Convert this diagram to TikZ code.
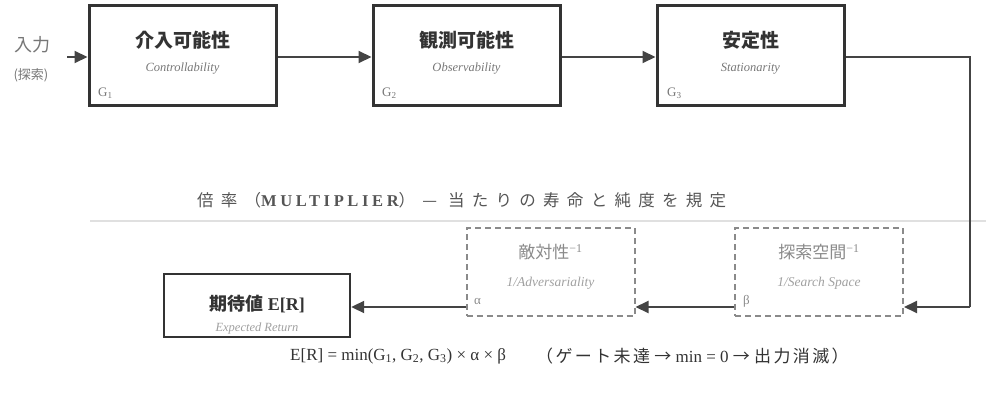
\documentclass[tikz,border=0pt]{standalone}
\usepackage{fontspec}
\setmainfont{Liberation Serif}
\newfontfamily\cjk{Noto Sans CJK JP}
\newfontfamily\cjksp[LetterSpace=44]{Noto Sans CJK JP}
\newfontfamily\cjkfm[LetterSpace=14]{Noto Sans CJK JP}
\newfontfamily\serifsp[LetterSpace=22]{Liberation Serif}
\usetikzlibrary{arrows.meta}
\definecolor{dk}{HTML}{333333}
\definecolor{ln}{HTML}{444444}
\definecolor{md}{HTML}{777777}
\definecolor{hd}{HTML}{555555}
\definecolor{dsh}{HTML}{8A8A8A}
\definecolor{lt}{HTML}{A0A0A0}
\tikzset{
  gate/.style={draw=dk, line width=3pt, minimum width=187pt, minimum height=100pt, inner sep=0pt},
  mult/.style={draw=dsh, line width=2pt, dash pattern=on 6pt off 4pt, minimum width=168pt, minimum height=88pt, inner sep=0pt},
  outbox/.style={draw=dk, line width=2.4pt, minimum width=186pt, minimum height=63pt, inner sep=0pt},
  conn/.style={draw=ln, line width=2pt, -{Triangle[length=13pt,width=12pt]}},
  wire/.style={draw=ln, line width=2pt},
  ttl/.style={font=\cjk\bfseries\fontsize{19}{22}\selectfont, text=dk, inner sep=0pt},
  sub/.style={font=\itshape\fontsize{12.5}{14}\selectfont, text=md, inner sep=0pt},
  glab/.style={font=\fontsize{13}{15}\selectfont, text=md, inner sep=0pt, anchor=west},
  mttl/.style={font=\cjk\fontsize{17}{20}\selectfont, text=dsh, inner sep=0pt},
  msub/.style={font=\itshape\fontsize{13.5}{15}\selectfont, text=lt, inner sep=0pt},
  mlab/.style={font=\fontsize{13}{15}\selectfont, text=dsh, inner sep=0pt, anchor=west},
  fml/.style={anchor=west, text=dk, font=\fontsize{17}{19}\selectfont, inner sep=0pt},
}
\begin{document}
\begin{tikzpicture}[x=1pt,y=-1pt]
\useasboundingbox (0,0) rectangle (986,396);
% top row
\node[gate] (g1) at (182.5,56) {};
\node[gate] (g2) at (466.5,56) {};
\node[gate] (g3) at (750.5,56) {};
\node[ttl] (t1) at (182.5,40) {介入可能性};
\node[ttl] (t2) at (466.5,40) {観測可能性};
\node[ttl] (t3) at (750.5,40) {安定性};
\node[sub] (s1) at (182.5,69) {Controllability};
\node[sub] (s2) at (466.5,69) {Observability};
\node[sub] (s3) at (750.5,69) {Stationarity};
\node[glab] (l1) at (98,93) {G\textsubscript{1}};
\node[glab] (l2) at (382,93) {G\textsubscript{2}};
\node[glab] (l3) at (667,93) {G\textsubscript{3}};
% input
\node[font=\cjk\fontsize{18}{20}\selectfont, text=md, inner sep=0pt] (in) at (32,45) {入力};
\node[font=\cjk\itshape\fontsize{13}{15}\selectfont, text=md, inner sep=0pt] (insub) at (31,75) {(探索)};
\coordinate (inS) at (67,57);
\draw[conn] (inS) -- (g1.west |- inS);
\draw[conn] (g1.east |- inS) -- (g2.west |- inS);
\draw[conn] (g2.east |- inS) -- (g3.west |- inS);
% heading
\node[anchor=west, text=hd, inner sep=0pt] (head) at (197,200)
  {\cjksp\fontsize{16.5}{19}\selectfont 倍率（{\serifsp\bfseries MULTIPLIER}）— 当たりの寿命と純度を規定};
\coordinate (hlA) at (90,221);
\coordinate (hlB) at (986,221);
\draw[draw=black!12, line width=1.2pt] (hlA) -- (hlB);
% multipliers
\node[mult] (mb) at (819,272) {};
\node[mult] (ma) at (550.5,272) {};
\node[mttl] (mbt) at (819,252) {探索空間\textsuperscript{\rmfamily −1}};
\node[mttl] (mat) at (550.5,252) {敵対性\textsuperscript{\rmfamily −1}};
\node[msub] (mbs) at (819,283) {1/Search Space};
\node[msub] (mas) at (550.5,283) {1/Adversariality};
\node[mlab] (lb) at (743,301) {β};
\node[mlab] (la) at (474,301) {α};
% output
\node[outbox] (er) at (257,305.5) {};
\node[font=\fontsize{18}{21}\selectfont\bfseries, text=dk, inner sep=0pt] (ert) at (257,304) {{\cjk 期待値} E[R]};
\node[font=\itshape\fontsize{12.5}{14}\selectfont, text=lt, inner sep=0pt] (ers) at (257,328) {Expected Return};
% connectors
\coordinate (c1) at (970,57);
\coordinate (c2) at (970,307);
\draw[wire] (g3.east |- c1) -- (c1) -- (c2);
\draw[conn] (c2) -- (mb.east |- c2);
\draw[conn] (mb.west |- c2) -- (ma.east |- c2);
\draw[conn] (ma.west |- c2) -- (er.east |- c2);
% formula
\node[fml] (f1) at (290,356)
  {E[R] = min(G\textsubscript{1}, G\textsubscript{2}, G\textsubscript{3}) × α × β};
\node[fml] (f2) at (536,356)
  {{\cjkfm （ゲート未達}\ {\cjk →}\ min = 0\ {\cjk →}\ {\cjkfm 出力消滅）}};
\end{tikzpicture}
\end{document}
